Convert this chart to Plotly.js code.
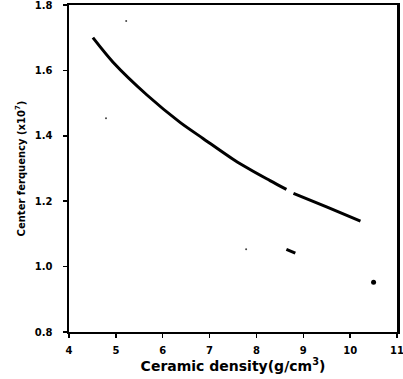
<!DOCTYPE html>
<html>
<head>
<meta charset="utf-8">
<script src="https://cdn.plot.ly/plotly-3.0.1.min.js"></script>
<style>html,body{margin:0;padding:0;background:#fff}#chart{width:403px;height:379px}</style>
</head>
<body>
<div id="chart"></div>
<script>
// Main curve (two pieces, separated by a small gap)
const curveX = [4.51, 4.94, 5.67, 6.37, 6.86, 7.59, 8.29, 8.64, null, 8.79, 9.51, 10.22];
const curveY = [1.700, 1.625, 1.524, 1.441, 1.392, 1.320, 1.263, 1.236, null, 1.224, 1.182, 1.139];
// Short stray segment
const segX = [8.64, 8.83];
const segY = [1.053, 1.041];
// Dot
const dotX = [10.50];
const dotY = [0.952];
// Specks
const speckX = [7.78, 5.22, 4.79];
const speckY = [1.053, 1.751, 1.454];

const xTicks = [4, 5, 6, 7, 8, 9, 10, 11];
const yTicks = [0.8, 1.0, 1.2, 1.4, 1.6, 1.8];

const tickFont = {family: 'DejaVu Sans', size: 10, color: '#000', weight: 'bold'};
const traces = [
  {x: curveX, y: curveY, mode: 'lines', line: {color: '#000', width: 3, shape: 'spline', smoothing: 0.8}, connectgaps: false, hoverinfo: 'none'},
  {x: segX, y: segY, mode: 'lines', line: {color: '#000', width: 3}, hoverinfo: 'none'},
  {x: dotX, y: dotY, mode: 'markers', marker: {color: '#000', size: 5}, hoverinfo: 'none'},
  {x: speckX, y: speckY, mode: 'markers', marker: {color: '#444', size: 2}, hoverinfo: 'none'}
];
const layout = {
  width: 403, height: 379,
  margin: {l: 69, r: 6, t: 5, b: 47},
  showlegend: false,
  paper_bgcolor: '#fff', plot_bgcolor: '#fff',
  xaxis: {
    range: [4, 11], tickvals: xTicks, ticktext: xTicks.map(String),
    showgrid: false, zeroline: false, showline: true, linecolor: '#000', linewidth: 2, mirror: true,
    ticks: 'outside', ticklen: 4, tickwidth: 1.5, tickcolor: '#000', ticklabelstandoff: 4,
    ticklabeloverflow: 'allow',
    tickfont: tickFont,
    title: {text: 'Ceramic density(g/cm<sup>3</sup>)', font: {family: 'DejaVu Sans', size: 14, color: '#000', weight: 'bold'}, standoff: 6}
  },
  yaxis: {
    range: [0.8, 1.8], tickvals: yTicks, ticktext: yTicks.map(v => v.toFixed(1)),
    showgrid: false, zeroline: false, showline: true, linecolor: '#000', linewidth: 2.5, mirror: true,
    ticks: 'outside', ticklen: 4, tickwidth: 1.5, tickcolor: '#000', ticklabelstandoff: 8,
    ticklabeloverflow: 'allow',
    tickfont: tickFont,
    title: {text: 'Center ferquency (x10<sup>7</sup>)', font: {family: 'DejaVu Sans', size: 10, color: '#000', weight: 'bold'}, standoff: 8}
  }
};
Plotly.newPlot('chart', traces, layout, {staticPlot: true, displayModeBar: false});
</script>
</body>
</html>
